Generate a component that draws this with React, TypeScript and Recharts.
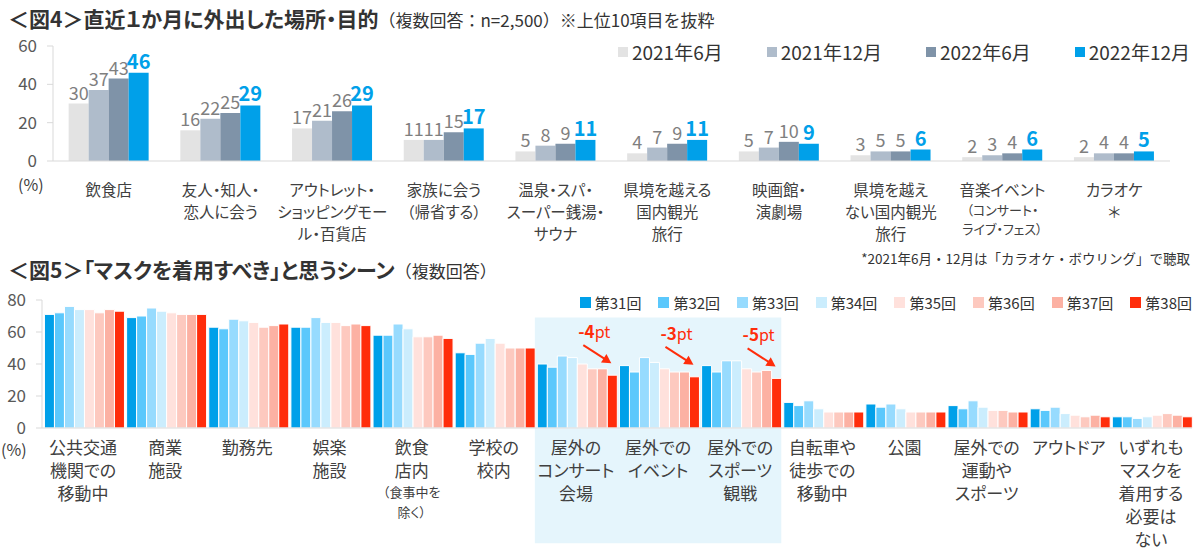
import React from 'react';
import { BarChart, Bar, XAxis, YAxis, LabelList, ReferenceArea } from 'recharts';

const FONT = '"Noto Sans CJK JP", "Noto Sans", sans-serif';
const PALT = { fontFeatureSettings: '"palt"' };

// 図4 直近1か月に外出した場所・目的
const placeLabels = ['飲食店', '友人・知人・\n恋人に会う', 'アウトレット・\nショッピングモー\nル・百貨店', '家族に会う\n（帰省する）', '温泉・スパ・\nスーパー銭湯・\nサウナ', '県境を越える\n国内観光\n旅行', '映画館・\n演劇場', '県境を越え\nない国内観光\n旅行', '音楽イベント', 'カラオケ\n＊'];
const placeNotes = ['', '', '', '', '', '', '', '', '（コンサート・\nライブ・フェス）', ''];
const jun2021 = [30, 16, 17, 11, 5, 4, 5, 3, 2, 2];
const dec2021 = [37, 22, 21, 11, 8, 7, 7, 5, 3, 4];
const jun2022 = [43, 25, 26, 15, 9, 9, 10, 5, 4, 4];
const dec2022 = [46, 29, 29, 17, 11, 11, 9, 6, 6, 5];
const periodNames = ['2021年6月', '2021年12月', '2022年6月', '2022年12月'];
const periodColors = ['#e3e3e3', '#afbccb', '#7f93a8', '#00a0e9'];
const placeTicks = [0, 20, 40, 60];

// 図5 「マスクを着用すべき」と思うシーン
const sceneLabels = ['公共交通\n機関での\n移動中', '商業\n施設', '勤務先', '娯楽\n施設', '飲食\n店内', '学校の\n校内', '屋外の\nコンサート\n会場', '屋外での\nイベント', '屋外での\nスポーツ\n観戦', '自転車や\n徒歩での\n移動中', '公園', '屋外での\n運動や\nスポーツ', 'アウトドア', 'いずれも\nマスクを\n着用する\n必要は\nない'];
const sceneNotes = ['', '', '', '', '（食事中を\n除く）', '', '', '', '', '', '', '', '', ''];
const r31 = [71, 69, 63, 63, 58, 47, 40, 39, 39, 16, 15, 14, 12, 7];
const r32 = [72, 70, 62, 63, 58, 46, 38, 35, 35, 14, 13, 12, 11, 7];
const r33 = [76, 75, 68, 69, 65, 53, 45, 44, 42, 17, 15, 17, 13, 6];
const r34 = [74, 73, 67, 66, 62, 56, 44, 41, 42, 12, 12, 13, 9, 7];
const r35 = [74, 72, 66, 66, 57, 53, 40, 37, 37, 10, 10, 11, 8, 8];
const r36 = [72, 71, 63, 64, 57, 50, 37, 35, 35, 10, 10, 11, 7, 9];
const r37 = [74, 71, 64, 65, 58, 50, 37, 35, 36, 10, 10, 10, 8, 8];
const r38 = [73, 71, 65, 64, 56, 50, 33, 32, 31, 10, 10, 10, 7, 7];
const ptChange = ['', '', '', '', '', '', '-4', '-3', '-5', '', '', '', '', ''];
const roundNames = ['第31回', '第32回', '第33回', '第34回', '第35回', '第36回', '第37回', '第38回'];
const roundColors = ['#00a0e9', '#5bc8fc', '#97dbfe', '#cbedfd', '#ffe1dc', '#fdc9bf', '#fcb1a3', '#ff2d0b'];
const sceneTicks = [0, 20, 40, 60, 80];

const placeSeries = [jun2021, dec2021, jun2022, dec2022];
const placeData = placeLabels.map((name, i) => {
  const row: any = { name };
  placeSeries.forEach((s, k) => { row['p' + k] = s[i]; });
  return row;
});

const roundSeries = [r31, r32, r33, r34, r35, r36, r37, r38];
const sceneData = sceneLabels.map((name, i) => {
  const row: any = { name, pt: ptChange[i] };
  roundSeries.forEach((s, k) => { row['r' + k] = s[i]; });
  return row;
});

function MultiTick(props: any) {
  const { x, y, payload, labels, notes, size, lineH, noteSize, noteLineH, firstDy } = props;
  const idx = labels.indexOf(payload.value);
  const lines = String(payload.value).split('\n');
  const noteLines = idx >= 0 && notes[idx] ? notes[idx].split('\n') : [];
  let yy = y + firstDy;
  const out: any[] = [];
  lines.forEach((l: string, i: number) => {
    out.push(<text key={'l' + i} x={x} y={yy} textAnchor="middle" fontSize={size} fill="#404040" fontFamily={FONT} style={PALT}>{l}</text>);
    yy += lineH;
  });
  yy += noteLineH - lineH;
  noteLines.forEach((l: string, i: number) => {
    out.push(<text key={'n' + i} x={x} y={yy} textAnchor="middle" fontSize={noteSize} fill="#404040" fontFamily={FONT} style={PALT}>{l}</text>);
    yy += noteLineH;
  });
  return <g>{out}</g>;
}

function PtArrow(props: any) {
  const { x, y, width, value } = props;
  if (!value) return null;
  const cx = x + width / 2;
  const c = '#ff2d0b';
  return (
    <g>
      <text x={cx - 18} y={y - 37} textAnchor="middle" fill={c} fontFamily={FONT}>
        <tspan fontSize={17} fontWeight={700}>{value}</tspan>
        <tspan fontSize={16}>pt</tspan>
      </text>
      <line x1={cx - 29} y1={y - 30} x2={cx - 8} y2={y - 16.5} stroke={c} strokeWidth={2} />
      <polygon points={`${cx - 1},${y - 12} ${cx - 11.3},${y - 12.7} ${cx - 5.9},${y - 21.1}`} fill={c} />
    </g>
  );
}

function LegendRow({ names, colors, sq, size, gap }: any) {
  return (
    <div style={{ display: 'flex', alignItems: 'center', gap }}>
      {names.map((n: string, i: number) => (
        <div key={n} style={{ display: 'flex', alignItems: 'center' }}>
          <span style={{ width: sq, height: sq, background: colors[i], display: 'inline-block', marginRight: 4 }} />
          <span style={{ fontSize: size, color: '#333', whiteSpace: 'nowrap' }}>{n}</span>
        </div>
      ))}
    </div>
  );
}

export default function App() {
  return (
    <div style={{ position: 'absolute', left: 0, top: 0, width: 1200, height: 550, background: '#fff', fontFamily: FONT, overflow: 'hidden' }}>
      <div style={{ position: 'absolute', left: 8, top: 3, whiteSpace: 'nowrap', color: '#333' }}>
        <span style={{ fontSize: 21, fontWeight: 700, ...PALT }}>＜図4＞直近１か月に外出した場所・目的</span>
        <span style={{ fontSize: 17 }}>（複数回答：n=2,500）※上位10項目を抜粋</span>
      </div>

      <div style={{ position: 'absolute', left: 0, top: 0 }}>
        <BarChart width={1200} height={250} data={placeData} margin={{ top: 46, right: 30, bottom: 0, left: 0 }} barGap={0} barCategoryGap="14%">
          <XAxis dataKey="name" interval={0} height={89} tickLine={false} axisLine={{ stroke: '#d9d9d9' }}
            tick={<MultiTick labels={placeLabels} notes={placeNotes} size={15.5} lineH={22} noteSize={13} noteLineH={19} firstDy={27} />} />
          <YAxis domain={[0, 60]} ticks={placeTicks} width={53} tickSize={6} tickMargin={10}
            axisLine={{ stroke: '#d9d9d9' }} tickLine={{ stroke: '#d9d9d9' }}
            tick={{ fill: '#595959', fontSize: 17, fontFamily: FONT }} />
          {periodNames.map((n, k) => (
            <Bar key={n} dataKey={'p' + k} name={n} fill={periodColors[k]} isAnimationActive={false}>
              <LabelList dataKey={'p' + k} position="top" offset={4}
                fill={k === 3 ? '#00a0e9' : '#7f7f7f'} fontSize={k === 3 ? 20 : 18}
                fontWeight={k === 3 ? 700 : 400} fontFamily={FONT} />
            </Bar>
          ))}
        </BarChart>
      </div>
      <div style={{ position: 'absolute', left: 18, top: 172, fontSize: 16, color: '#404040' }}>(%)</div>
      <div style={{ position: 'absolute', right: 10, top: 38 }}>
        <LegendRow names={periodNames} colors={periodColors} sq={10} size={19} gap={44} />
      </div>
      <div style={{ position: 'absolute', right: 10, top: 248, fontSize: 13.5, color: '#333', whiteSpace: 'nowrap' }}>
        *2021年6月・12月は「カラオケ・ボウリング」で聴取
      </div>

      <div style={{ position: 'absolute', left: 8, top: 256, whiteSpace: 'nowrap', color: '#333', lineHeight: 1.3 }}>
        <span style={{ fontSize: 21, fontWeight: 700, ...PALT }}>＜図5＞「マスクを着用すべき」と思うシーン</span>
        <span style={{ fontSize: 17 }}>（複数回答）</span>
      </div>

      <div style={{ position: 'absolute', left: 0, top: 280 }}>
        <BarChart width={1200} height={270} data={sceneData} margin={{ top: 20, right: 8, bottom: 0, left: 0 }} barGap={0} barCategoryGap="3%">
          <ReferenceArea x1={sceneLabels[6]} x2={sceneLabels[8]} y1={-72} y2={69} fill="#e5f5fc" fillOpacity={1} stroke="none" ifOverflow="visible" />
          <XAxis dataKey="name" interval={0} height={122} tickLine={false} axisLine={{ stroke: '#d9d9d9' }}
            tick={<MultiTick labels={sceneLabels} notes={sceneNotes} size={17} lineH={23} noteSize={13} noteLineH={20} firstDy={18} />} />
          <YAxis domain={[0, 80]} ticks={sceneTicks} width={42} tickSize={6} tickMargin={10}
            axisLine={{ stroke: '#d9d9d9' }} tickLine={{ stroke: '#d9d9d9' }}
            tick={{ fill: '#595959', fontSize: 17, fontFamily: FONT }} />
          {roundNames.map((n, k) => (
            <Bar key={n} dataKey={'r' + k} name={n} fill={roundColors[k]} stroke="#fff" strokeWidth={1} isAnimationActive={false}>
              {k === 7 ? <LabelList dataKey="pt" content={<PtArrow />} /> : null}
            </Bar>
          ))}
        </BarChart>
      </div>
      <div style={{ position: 'absolute', left: 1, top: 440, fontSize: 16, color: '#404040', lineHeight: 1.2 }}>(%)</div>
      <div style={{ position: 'absolute', right: 8, top: 292 }}>
        <LegendRow names={roundNames} colors={roundColors} sq={11} size={15} gap={17} />
      </div>
    </div>
  );
}
